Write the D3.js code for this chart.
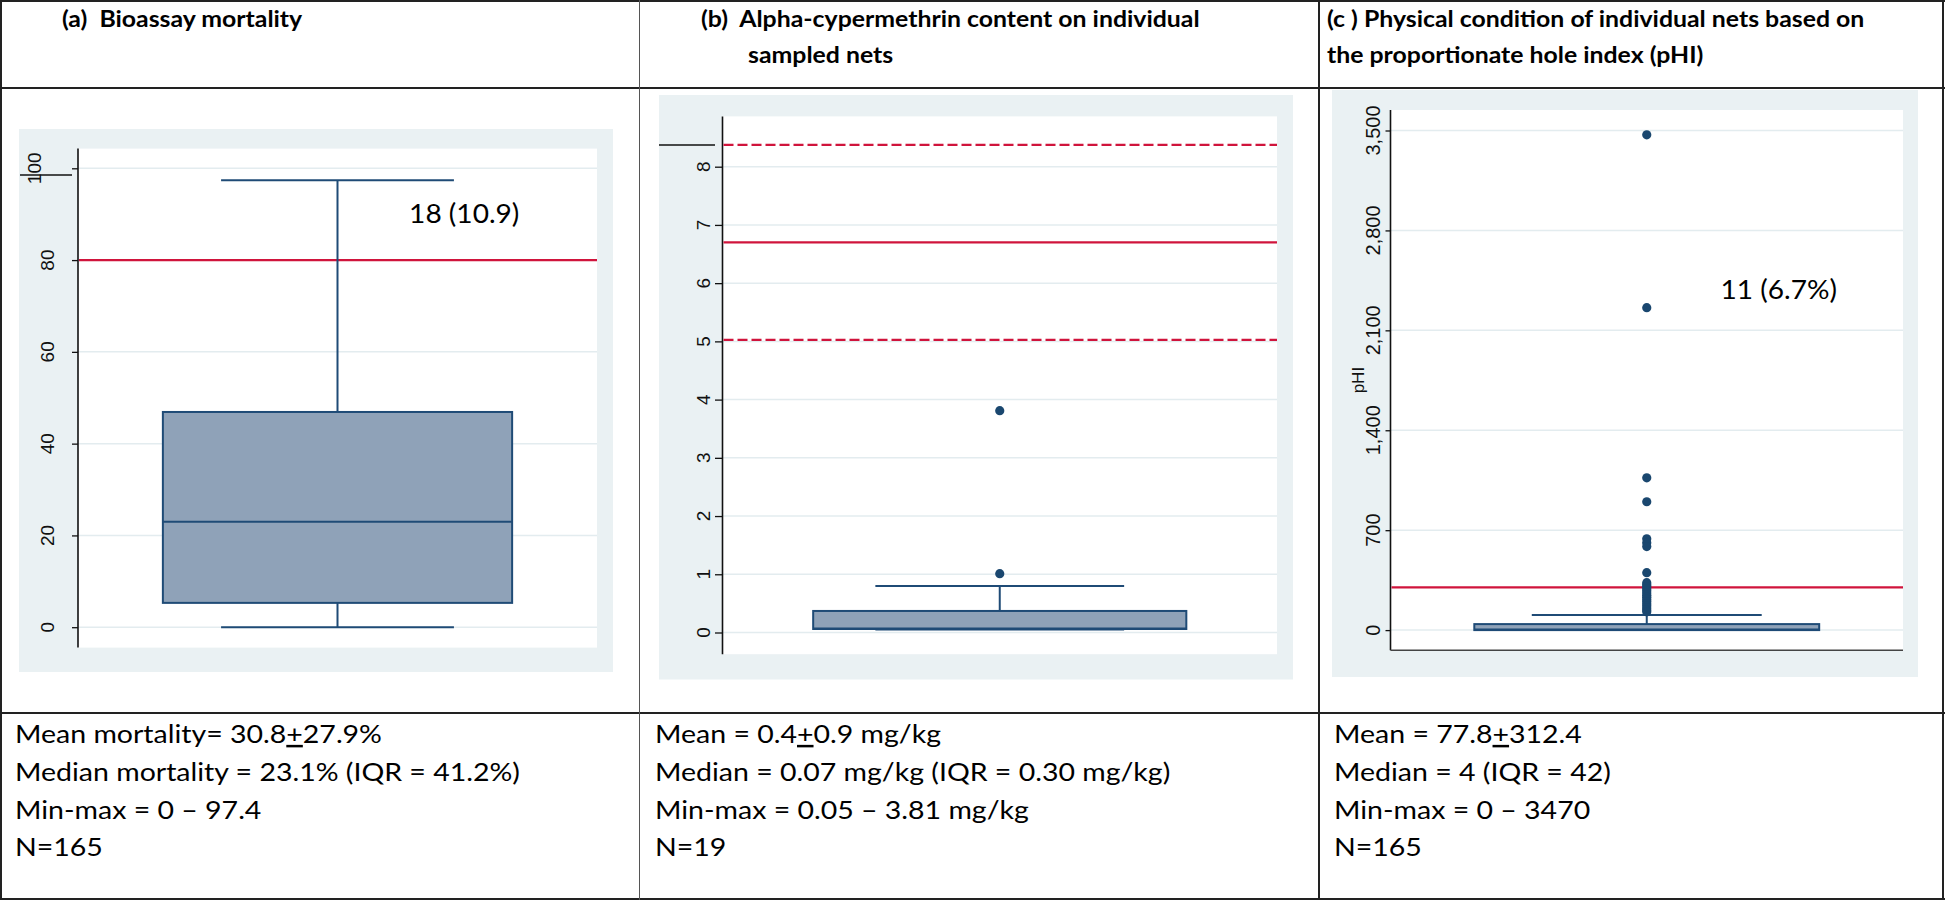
<!DOCTYPE html>
<html><head><meta charset="utf-8">
<script src="https://cdn.jsdelivr.net/npm/d3@7"></script>
<style>html,body{margin:0;padding:0;background:#fff;} svg{display:block;} text{white-space:pre;}</style>
</head><body><svg id="chart" width="1946" height="901"></svg>
<script>
// ---------------- DATA ----------------
const headerLine1 = ["(a)  Bioassay mortality", "(b)  Alpha-cypermethrin content on individual", "(c ) Physical condition of individual nets based on"];
const headerLine2 = ["", "sampled nets", "the proportionate hole index (pHI)"];

// box stats order: lower whisker, Q1, median, Q3, upper whisker
const mortalityTicks = [0, 20, 40, 60, 80, 100];
const mortalityTickLabels = ["0", "20", "40", "60", "80", "100"];
const mortalityBox = [0, 5.3, 23.0, 46.9, 97.4];
const mortalityOutliers = [];
const mortalityRefLines = [80];
const mortalityNote = "18 (10.9)";

const cypermethrinTicks = [0, 1, 2, 3, 4, 5, 6, 7, 8];
const cypermethrinTickLabels = ["0", "1", "2", "3", "4", "5", "6", "7", "8"];
const cypermethrinBox = [0.05, 0.06, 0.07, 0.37, 0.80];
const cypermethrinOutliers = [1.01, 3.81];
const cypermethrinTarget = [6.7];
const cypermethrinTargetRange = [5.025, 8.375];

const phiTicks = [0, 700, 1400, 2100, 2800, 3500];
const phiTickLabels = ["0", "700", "1,400", "2,100", "2,800", "3,500"];
const phiBox = [0, 0, 4, 42, 105];
const phiOutliers = [3470, 2259, 1067, 899, 640, 612, 585, 402, 332, 318, 305, 290, 275, 260, 245, 230, 215, 200, 185, 170, 155, 140, 128];
const phiRefLines = [300];
const phiNote = "11 (6.7%)";
const phiAxisTitle = "pHI";

const statsA = ["Mean mortality= 30.8+27.9%", "Median mortality = 23.1% (IQR = 41.2%)", "Min-max = 0 \u2013 97.4", "N=165"];
const statsB = ["Mean = 0.4+0.9 mg/kg", "Median = 0.07 mg/kg (IQR = 0.30 mg/kg)", "Min-max = 0.05 \u2013 3.81 mg/kg", "N=19"];
const statsC = ["Mean = 77.8+312.4", "Median = 4 (IQR = 42)", "Min-max = 0 \u2013 3470", "N=165"];

// ---------------- STYLE / LAYOUT ----------------
const svg = d3.select("#chart");
const C_GRAY = "#eaf1f3", C_GRID = "#e3ecef", C_RED = "#d0143c";
const C_BOXFILL = "#8fa2b8", C_BOXLINE = "#1f4b76", C_DOT = "#1a476f";
const TXT_FONT = "Lato, 'Open Sans', sans-serif";
const TICK_FONT = "'Liberation Sans', Arial, sans-serif";

function stretchText(parent, x, y, sx, str, opts) {
  const g = parent.append("g").attr("transform", `translate(${x},${y}) scale(${sx},1)`);
  const t = g.append("text").attr("x", 0).attr("y", 0)
    .attr("font-family", TXT_FONT).attr("font-size", opts.size)
    .attr("font-weight", opts.weight || "normal").attr("fill", "#000")
    .attr("xml:space", "preserve");
  if (opts.pm && str.indexOf("+") >= 0) {
    const i = str.indexOf("+");
    t.append("tspan").text(str.slice(0, i));
    t.append("tspan").style("text-decoration", "underline").text("+");
    t.append("tspan").text(str.slice(i + 1));
  } else t.text(str);
  return t;
}

const panels = [
  { gray: [19, 129, 613, 672], plot: [78, 148.6, 597, 647.6], yr: [627.2, 168.3],
    ticks: mortalityTicks, labels: mortalityTickLabels, box: mortalityBox, out: mortalityOutliers,
    labOff: 24, tickLen: 6, labSize: 19, note: mortalityNote, noteFx: 0.638, noteV: 88,
    artifact: [20, 72, 175] },
  { gray: [659, 95, 1293, 679.5], plot: [722.5, 116.4, 1277, 654.2], yr: [632.5, 166.7],
    ticks: cypermethrinTicks, labels: cypermethrinTickLabels, box: cypermethrinBox, out: cypermethrinOutliers,
    labOff: 12.5, tickLen: 7.5, labSize: 19, artifact: [659, 715, 145] },
  { gray: [1332, 90, 1918, 677], plot: [1390.5, 110, 1903, 650.2], yr: [630.1, 130.5],
    ticks: phiTicks, labels: phiTickLabels, box: phiBox, out: phiOutliers,
    labOff: 10.5, tickLen: 5, labSize: 20, note: phiNote, noteFx: 0.644, noteV: 2320, xAxis: true }
];
const refs = [
  [{ v: mortalityRefLines[0], dash: null }],
  [{ v: cypermethrinTarget[0], dash: null }, { v: cypermethrinTargetRange[0], dash: "10,4" }, { v: cypermethrinTargetRange[1], dash: "10,4" }],
  [{ v: phiRefLines[0], dash: null }]
];

panels.forEach((p, i) => {
  const g = svg.append("g");
  const [gx0, gy0, gx1, gy1] = p.gray, [px0, py0, px1, py1] = p.plot;
  g.append("rect").attr("x", gx0).attr("y", gy0).attr("width", gx1 - gx0).attr("height", gy1 - gy0).attr("fill", C_GRAY);
  g.append("rect").attr("x", px0).attr("y", py0).attr("width", px1 - px0).attr("height", py1 - py0).attr("fill", "#fff");

  const y = d3.scaleLinear().domain([p.ticks[0], p.ticks[p.ticks.length - 1]]).range(p.yr);
  const x = d3.scaleBand().domain(["all"]).range([px0, px1]).paddingInner(0).paddingOuter(0.243);

  // grid
  g.selectAll(".grid").data(p.ticks).join("line")
    .attr("x1", px0).attr("x2", px1).attr("y1", d => y(d)).attr("y2", d => y(d))
    .attr("stroke", C_GRID).attr("stroke-width", 1.5);

  // y axis (line + ticks)
  const ax = g.append("g").attr("transform", `translate(${px0},0)`)
    .call(d3.axisLeft(y).tickValues(p.ticks).tickSize(p.tickLen).tickFormat(""));
  ax.select(".domain").attr("d", `M0,${py0}V${py1}`).attr("stroke", "#111").attr("stroke-width", 1.6);
  ax.selectAll(".tick line").attr("stroke", "#111").attr("stroke-width", 1.3);

  // rotated tick labels
  g.selectAll(".lab").data(p.ticks).join("text")
    .attr("transform", (d, k) => `translate(${px0 - p.labOff - (i === 0 && k === p.ticks.length - 1 ? 13 : 0)},${y(d)}) rotate(-90)`)
    .attr("text-anchor", "middle").attr("font-family", TICK_FONT).attr("font-size", p.labSize)
    .attr("fill", "#111").text((d, k) => p.labels[k]);

  if (p.xAxis) {
    g.append("line").attr("x1", px0).attr("x2", px1).attr("y1", py1).attr("y2", py1)
      .attr("stroke", "#444").attr("stroke-width", 1.6);
    g.append("text").attr("transform", `translate(${px0 - 27},${(py0 + py1) / 2}) rotate(-90)`)
      .attr("text-anchor", "middle").attr("font-family", TICK_FONT).attr("font-size", 17)
      .attr("fill", "#111").text(phiAxisTitle);
  }
  if (p.artifact) {
    g.append("line").attr("x1", p.artifact[0]).attr("x2", p.artifact[1]).attr("y1", p.artifact[2]).attr("y2", p.artifact[2])
      .attr("stroke", "#111").attr("stroke-width", 1.5);
  }

  // reference lines
  g.selectAll(".ref").data(refs[i]).join("line")
    .attr("x1", px0 + 1).attr("x2", px1).attr("y1", d => y(d.v)).attr("y2", d => y(d.v))
    .attr("stroke", C_RED).attr("stroke-width", 2.2).attr("stroke-dasharray", d => d.dash);

  // box plot
  const [lw, q1, med, q3, uw] = p.box;
  const bx = x("all"), bw = x.bandwidth(), cx = bx + bw / 2, capW = bw * 2 / 3;
  const line = (x1, y1, x2, y2) => g.append("line").attr("x1", x1).attr("y1", y1).attr("x2", x2).attr("y2", y2)
    .attr("stroke", C_BOXLINE).attr("stroke-width", 2);
  line(cx, y(q3), cx, y(uw));
  line(cx - capW / 2, y(uw), cx + capW / 2, y(uw));
  line(cx, y(q1), cx, y(lw));
  line(cx - capW / 2, y(lw), cx + capW / 2, y(lw));
  g.append("rect").attr("x", bx).attr("y", y(q3)).attr("width", bw).attr("height", Math.max(1, y(q1) - y(q3)))
    .attr("fill", C_BOXFILL).attr("stroke", C_BOXLINE).attr("stroke-width", 2);
  line(bx, y(med), bx + bw, y(med));

  g.selectAll(".out").data(p.out).join("circle")
    .attr("cx", cx).attr("cy", d => y(d)).attr("r", 4.6).attr("fill", C_DOT);

  if (p.note) stretchText(g, px0 + p.noteFx * (px1 - px0), y(p.noteV), 1.08, p.note, { size: 26 });
});

// ---------------- TABLE ----------------
const T = svg.append("g");
const colX = [1, 639.5, 1319, 1943];
const rowY = [1, 88, 713, 899];
rowY.forEach(yv => T.append("line").attr("x1", 0).attr("x2", 1945).attr("y1", yv).attr("y2", yv).attr("stroke", "#222").attr("stroke-width", 2));
colX.forEach((xv, k) => T.append("line").attr("x1", xv).attr("x2", xv).attr("y1", 0).attr("y2", 900)
  .attr("stroke", k === 1 ? "#555" : "#222").attr("stroke-width", k === 1 ? 1 : 2));

// headers
const headX1 = [62, 701, 1327], headX2 = [62, 748, 1327];
headerLine1.forEach((s, k) => stretchText(T, headX1[k], 27, 1.08, s, { size: 23, weight: "bold" }));
headerLine2.forEach((s, k) => { if (s) stretchText(T, headX2[k], 63, 1.08, s, { size: 23, weight: "bold" }); });

// stats
const statsX = [15, 655, 1334], statsY = [743, 781, 818.5, 856];
[statsA, statsB, statsC].forEach((lines, k) => lines.forEach((s, j) =>
  stretchText(T, statsX[k], statsY[j], 1.14, s, { size: 25, pm: j === 0 })));
</script></body></html>
